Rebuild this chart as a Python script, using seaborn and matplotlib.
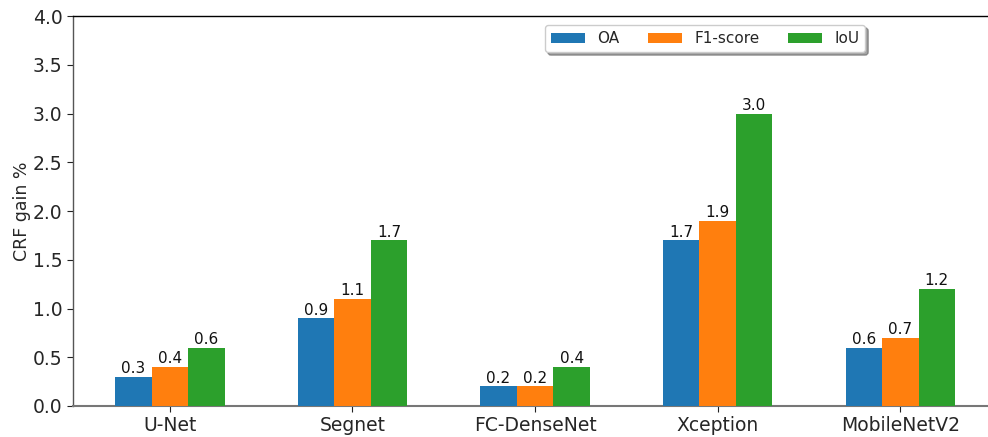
import matplotlib
matplotlib.use("Agg")
import matplotlib.pyplot as plt
import seaborn as sns
import pandas as pd

models = ["U-Net", "Segnet", "FC-DenseNet", "Xception", "MobileNetV2"]
oa = [0.3, 0.9, 0.2, 1.7, 0.6]
f1 = [0.4, 1.1, 0.2, 1.9, 0.7]
iou = [0.6, 1.7, 0.4, 3.0, 1.2]
metrics = ["OA", "F1-score", "IoU"]
colors = ["#1f77b4", "#ff7f0e", "#2ca02c"]

rows = []
for name, vals in zip(metrics, [oa, f1, iou]):
    for m, v in zip(models, vals):
        rows.append({"model": m, "metric": name, "gain": v})
df = pd.DataFrame(rows)

sns.set_style("white")
plt.rcParams["font.family"] = ["DejaVu Sans"]

fig = plt.figure(figsize=(9.88, 4.37), dpi=100)
ax = fig.add_axes([0.0739, 0.071, 0.9261, 0.892])

sns.barplot(data=df, x="model", y="gain", hue="metric", order=models,
            hue_order=metrics, palette=colors, width=0.6, saturation=1,
            errorbar=None, ax=ax, zorder=3, linewidth=0, edgecolor="none")

for cont in ax.containers:
    ax.bar_label(cont, fmt="%.1f", fontsize=11, padding=0.5, color="#111111")

ax.set_ylim(0, 4.0)
ax.set_xlim(-0.53, 4.48)
ax.set_yticks([0, 0.5, 1.0, 1.5, 2.0, 2.5, 3.0, 3.5, 4.0])
ax.set_yticklabels([f"{t:.1f}" for t in ax.get_yticks()], fontsize=13.5)
ax.tick_params(axis="x", labelsize=13.5, bottom=True, length=4, color="#222222")
ax.tick_params(axis="y", left=True, length=4, color="#222222")
ax.set_xlabel("")
ax.set_ylabel("CRF gain %", fontsize=12.5, labelpad=1)

ax.spines["right"].set_visible(False)
ax.spines["top"].set_color("black")
ax.spines["top"].set_linewidth(1.0)
ax.spines["left"].set_color("#555555")
ax.spines["left"].set_linewidth(1.0)
ax.spines["bottom"].set_color("#777777")
ax.spines["bottom"].set_linewidth(1.5)
ax.grid(False)

ax.legend(loc="upper center", bbox_to_anchor=(0.691, 0.977), borderaxespad=0,
          ncol=3, fontsize=11, frameon=True, fancybox=True, shadow=True,
          handlelength=2.2, columnspacing=1.9, edgecolor="#cccccc")

fig.savefig("out.png", dpi=100)
